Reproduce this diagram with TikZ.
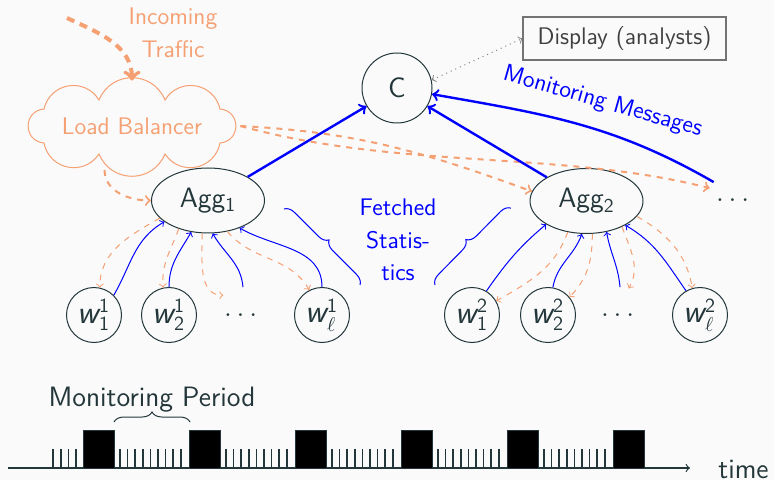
\documentclass[tikz,border=0pt]{standalone}
\usepackage{amsmath}
\usetikzlibrary{shapes.geometric,decorations.pathreplacing,calc}
\definecolor{ink}{HTML}{23373B}
\definecolor{bgc}{HTML}{FAFAFA}
\definecolor{traffic}{RGB}{245,160,115}
\definecolor{msg}{RGB}{0,0,255}
% worker label: w with sub- and superscript in sans
\newcommand{\wsym}[2]{$\text{\fontsize{16.5}{18}\selectfont\itshape w}_{\text{#1}}^{\text{#2}}$}
\begin{document}
\begin{tikzpicture}[x=0.5pt, y=-0.5pt, color=ink,
  font=\sffamily\fontsize{12}{14.5}\selectfont,
  bigtext/.style={font=\sffamily\fontsize{14}{16}\selectfont},
  aggnode/.style={draw, ellipse, minimum width=56.5pt, minimum height=32.5pt, inner sep=0pt, bigtext, line width=0.5pt},
  hubnode/.style={draw, circle, minimum size=35pt, inner sep=0pt, bigtext, line width=0.5pt},
  worker/.style={draw, circle, minimum size=27.5pt, inner sep=0pt, font=\sffamily\fontsize{14.4}{16}\selectfont, line width=0.5pt},
  gapnode/.style={circle, minimum size=27.5pt, inner sep=0pt, bigtext},
  lbnode/.style={ellipse, text=traffic, minimum width=108pt, minimum height=45pt, inner sep=0pt},
  puff/.style={bend right=67.5, looseness=1.25},
  sidepuff/.style={bend right=85, looseness=1.6},
  dispbox/.style={draw=black!55, text=black!75, minimum width=101.5pt, minimum height=21.5pt, inner sep=0pt, line width=0.6pt},
  uplink/.style={msg, line width=1.2pt, ->},
  fetch/.style={msg, line width=0.5pt, ->},
  push/.style={traffic, dashed, line width=0.5pt, ->},
  route/.style={traffic, dashed, line width=1pt, ->},
  feed/.style={traffic, dash pattern=on 4pt off 3pt, line width=2pt, ->},
  viewlink/.style={black!50, dotted, line width=0.5pt, <->},
  fbrace/.style={msg, line width=0.5pt, decorate, decoration={brace, amplitude=5pt}},
  pbrace/.style={ink, line width=0.5pt, decorate, decoration={brace, amplitude=5pt}},
  tick/.style={ink, line width=0.8pt},
  pulse/.style={draw=ink, fill=black, line width=0.5pt},
]
% canvas
\fill[bgc] (0,0) rectangle (774,480);
\useasboundingbox (0,0) rectangle (774,480);

% --- nodes ---------------------------------------------------------
\node[text=traffic, align=center, font=\sffamily\fontsize{12}{16.5}\selectfont] (inc) at (173,33) {Incoming\\Traffic};
\coordinate (src) at (67,18);
\node[lbnode] (lb) at (132,126) {Load Balancer};
% cloud outline of the load balancer, puff by puff
\draw[traffic, line width=0.5pt]
  ($(lb.center)+(88,-17)$) to[puff] ($(lb.center)+(33,-26)$)
  to[puff] ($(lb.center)+(-33,-26)$)
  to[puff] ($(lb.center)+(-88,-17)$)
  to[sidepuff] ($(lb.center)+(-88,17)$)
  to[puff] ($(lb.center)+(-33,28)$)
  to[puff] ($(lb.center)+(33,28)$)
  to[puff] ($(lb.center)+(88,17)$)
  to[sidepuff] cycle;
\node[hubnode] (c) at (397,88) {C};
\node[dispbox] (disp) at (624.5,38.5) {Display (analysts)};
\node[aggnode] (agg1) at (208,200.5) {Agg$_{\text{1}}$};
\node[aggnode] (agg2) at (586.5,201) {Agg$_{\text{2}}$};
\node[gapnode] (dots) at (735,200) {$\dots$};

\node[worker] (w11) at (94,315) {\wsym{1}{1}};
\node[worker] (w21) at (169,315) {\wsym{2}{1}};
\node[gapnode] (d1) at (243,315) {$\dots$};
\node[worker] (wl1) at (322,315) {\wsym{$\ell$}{1}};
\node[worker] (w12) at (472,315) {\wsym{1}{2}};
\node[worker] (w22) at (548,315) {\wsym{2}{2}};
\node[gapnode] (d2) at (620,315) {$\dots$};
\node[worker] (wl2) at (700,315) {\wsym{$\ell$}{2}};

\node[msg, align=center, font=\sffamily\fontsize{12}{16.25}\selectfont] (fs) at (398,240) {Fetched\\Statis-\\tics};

% --- traffic routing -------------------------------------------------
\draw[feed] (src) to[out=-25, in=90] (lb.north);
\draw[route] (lb.238) to[out=-90, in=180] (agg1.west);
\draw[route] (lb.east) to[out=-3, in=160] (agg2.170);
\draw[route] (lb.east) .. controls (400,170) and (560,150) .. (dots.155);

% --- monitoring messages -----------------------------------------------
\draw[uplink] (agg1) -- (c);
\draw[uplink] (agg2) -- (c);
\draw[uplink] (dots.140) to[out=150, in=-10] (c.-10);
\node[msg, rotate=-16, anchor=base] (mm) at (601,108) {Monitoring Messages};
\draw[viewlink] (c.13) -- (disp.west);

% --- first aggregation group -------------------------------------------
\draw[fetch] (w11.45) to[out=60, in=-150] (agg1.206);
\draw[fetch] (w21.north) to[out=90, in=-120] (agg1.242);
\draw[fetch] (d1.north) to[out=95, in=-60] (agg1.278);
\draw[fetch] (wl1.north) to[out=90, in=-30] (agg1.319);
\draw[push] (agg1.200) to[out=210, in=90] (w11.78);
\draw[push] (agg1.224) to[out=-110, in=95] (w21.102);
\draw[push] (agg1.260) to[out=-90, in=180] (d1.135);
\draw[push] (agg1.302) to[out=-50, in=120] (wl1.117);

% --- second aggregation group ------------------------------------------
\draw[fetch] (w12.59) to[out=55, in=-140] (agg2.210);
\draw[fetch] (w22.80) to[out=80, in=-110] (agg2.262);
\draw[fetch] (d2.north) to[out=95, in=-80] (agg2.303);
\draw[fetch] (wl2.120) to[out=125, in=-30] (agg2.328);
\draw[push] (agg2.239) to[out=-110, in=30] (w12.30);
\draw[push] (agg2.280) to[out=-90, in=45] (w22.40);
\draw[push] (agg2.324) to[out=-70, in=60] (d2.72);
\draw[push] (agg2.343) to[out=-30, in=100] (wl2.106);

% braces around the fetched statistics
\coordinate (bl1) at (284,209); \coordinate (bl2) at (360,285);
\coordinate (br1) at (435,285); \coordinate (br2) at (511,208);
\draw[fbrace] (bl1) -- (bl2);
\draw[fbrace] (br1) -- (br2);

% --- time line ------------------------------------------------------------
\coordinate (t0) at (8,468);
\coordinate (t1) at (690,468);
\draw[ink, line width=0.6pt, ->] (t0) -- (t1);
\node[bigtext, anchor=base west, inner sep=0pt] (time) at (718,478) {time};
\foreach \i in {0,...,3} \draw[tick] ({76-7.6*\i},468) -- ++(0,-19);
\foreach \k in {0,...,4}
  \foreach \i in {0,...,8}
    \draw[tick] ({83+106*\k+37+7.6*\i},468) -- ++(0,-19);
\foreach \k in {0,...,5}
  \draw[pulse] ({83+106*\k},468) rectangle ++(31,-38);
\coordinate (p1) at (114,422); \coordinate (p2) at (190,422);
\draw[pbrace] (p1) -- (p2);
\node[bigtext, anchor=base] (mp) at (152,406) {Monitoring Period};
\end{tikzpicture}
\end{document}
